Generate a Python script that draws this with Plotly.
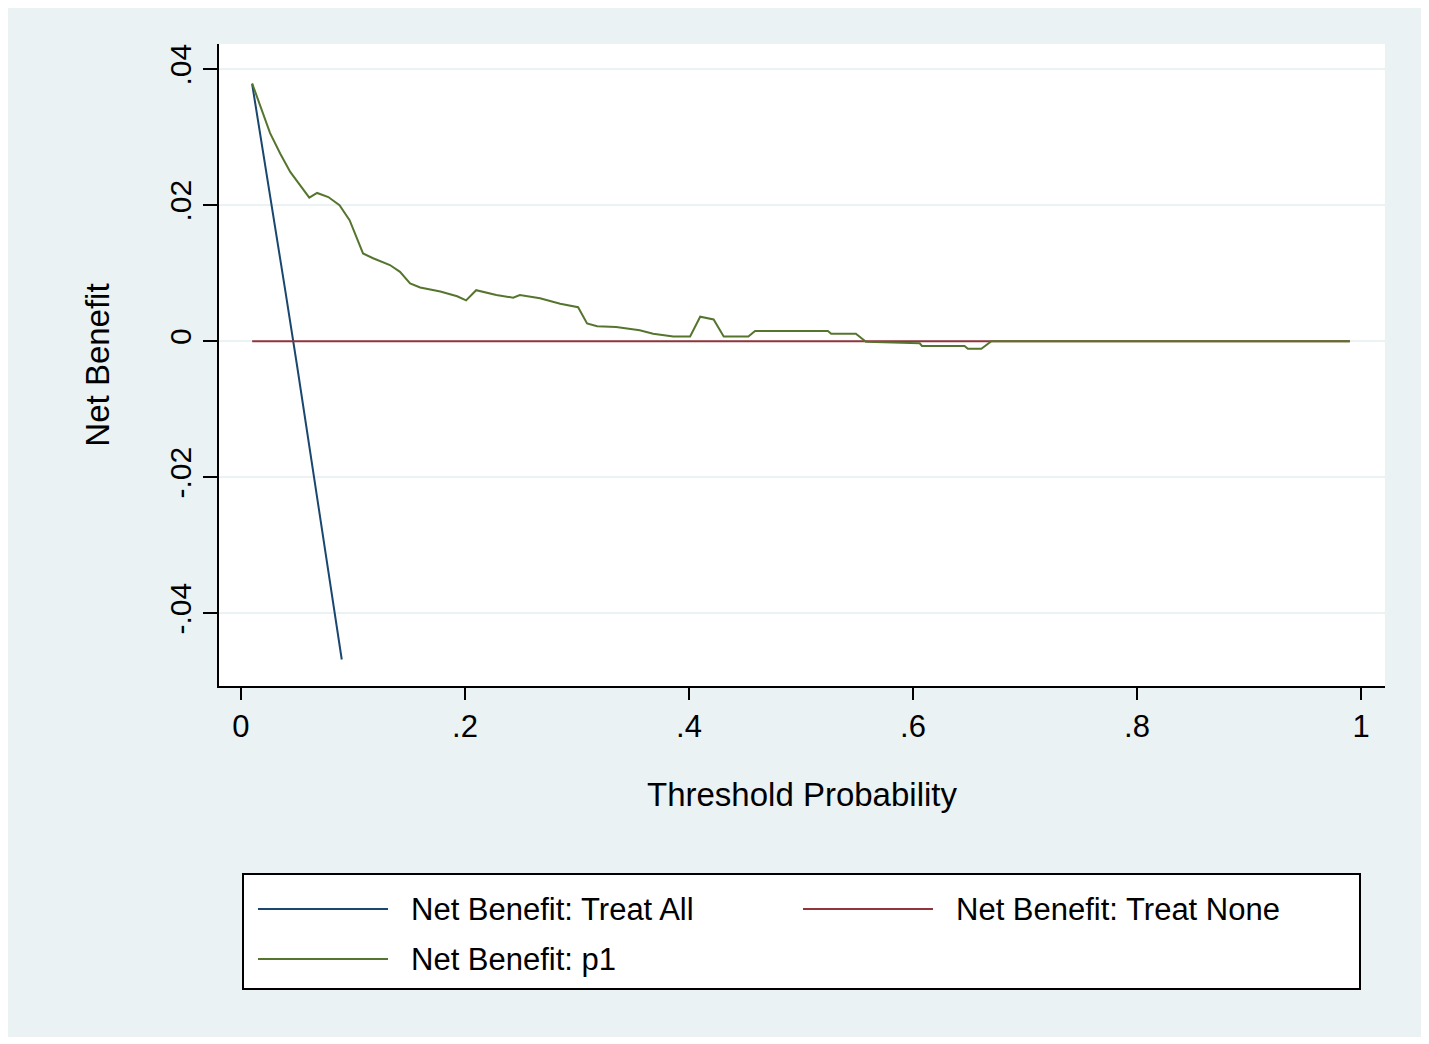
import plotly.graph_objects as go

# Data (threshold probability vs net benefit)
treat_all_x = [0.01, 0.02, 0.03, 0.04, 0.05, 0.06, 0.07, 0.08, 0.09]
treat_all_y = [0.0378, 0.0277, 0.0174, 0.0070, -0.0035, -0.0142, -0.0250, -0.0358, -0.0468]

treat_none_x = [0.01, 0.99]
treat_none_y = [0.0, 0.0]

p1_x = [0.010, 0.026, 0.035, 0.044, 0.061, 0.068, 0.078, 0.088, 0.097, 0.109,
        0.118, 0.133, 0.142, 0.151, 0.160, 0.178, 0.193, 0.201, 0.210, 0.228,
        0.243, 0.249, 0.267, 0.285, 0.301, 0.309, 0.318, 0.335, 0.356, 0.368,
        0.386, 0.401, 0.410, 0.422, 0.431, 0.453, 0.459, 0.524, 0.527, 0.549,
        0.558, 0.606, 0.608, 0.646, 0.649, 0.661, 0.670, 0.990]
p1_y = [0.0379, 0.0306, 0.0276, 0.0249, 0.0211, 0.0218, 0.0212, 0.0200, 0.0178, 0.0129,
        0.0122, 0.0112, 0.0102, 0.0085, 0.0079, 0.0073, 0.0066, 0.0060, 0.0075, 0.0068,
        0.0064, 0.0068, 0.0063, 0.0055, 0.0050, 0.0026, 0.0022, 0.0021, 0.0016, 0.0011,
        0.0007, 0.0007, 0.0036, 0.0032, 0.0007, 0.0007, 0.0015, 0.0015, 0.0011, 0.0011,
        -0.0001, -0.0003, -0.0007, -0.0007, -0.0011, -0.0011, 0.0000, 0.0000]

x_ticks = [0, 0.2, 0.4, 0.6, 0.8, 1]
x_tick_labels = ["0", ".2", ".4", ".6", ".8", "1"]
y_ticks = [-0.04, -0.02, 0, 0.02, 0.04]
y_tick_labels = ["-.04", "-.02", "0", ".02", ".04"]

names = ["Net Benefit: Treat All", "Net Benefit: Treat None", "Net Benefit: p1"]
colors = ["#1A476F", "#90353B", "#55752F"]

# Stata s2color look
bg = "#EAF2F3"
font_family = "Liberation Sans, Arial, sans-serif"

# page body adds an 8px margin, so the figure is laid out 8px smaller
OFF = 8
W, H = 1429 - OFF, 1044 - OFF
L, R, T, B = 219 - OFF, 1385 - OFF, 44 - OFF, 686 - OFF  # plot area in pixels


def px_x(p):
    return (p - OFF - L) / (R - L)


def px_y(p):
    return (B - (p - OFF)) / (B - T)


fig = go.Figure()
fig.add_trace(go.Scatter(x=treat_all_x, y=treat_all_y, mode="lines", name=names[0],
                         line=dict(color=colors[0], width=2), showlegend=False))
fig.add_trace(go.Scatter(x=treat_none_x, y=treat_none_y, mode="lines", name=names[1],
                         line=dict(color=colors[1], width=2), showlegend=False))
fig.add_trace(go.Scatter(x=p1_x, y=p1_y, mode="lines", name=names[2],
                         line=dict(color=colors[2], width=2), showlegend=False))

shapes = [
    # graph region inside the white frame
    dict(type="rect", xref="paper", yref="paper", layer="below",
         x0=px_x(OFF), x1=px_x(1422), y0=px_y(1037), y1=px_y(OFF),
         fillcolor=bg, line=dict(width=0)),
    dict(type="rect", xref="paper", yref="paper", layer="below",
         x0=0, x1=1, y0=0, y1=1, fillcolor="white", line=dict(width=0)),
    # legend box
    dict(type="rect", xref="paper", yref="paper",
         x0=px_x(243), x1=px_x(1360), y0=px_y(989), y1=px_y(874),
         fillcolor="white", line=dict(color="black", width=2)),
]
annotations = []

# legend entries: (line start px, row y px)
legend_pos = [(258, 909), (803, 909), (258, 959)]
for (lx, ly), name, col in zip(legend_pos, names, colors):
    shapes.append(dict(type="line", xref="paper", yref="paper",
                       x0=px_x(lx), x1=px_x(lx + 130), y0=px_y(ly), y1=px_y(ly),
                       line=dict(color=col, width=2)))
    annotations.append(dict(xref="paper", yref="paper", x=px_x(lx + 151), y=px_y(ly),
                            text=name, showarrow=False, xanchor="left", yanchor="middle",
                            font=dict(size=31, color="black", family=font_family)))

fig.update_layout(
    width=W, height=H,
    margin=dict(l=L, r=W - R, t=T, b=H - B, pad=0),
    paper_bgcolor="white",
    plot_bgcolor="white",
    font=dict(family=font_family, size=30, color="black"),
    showlegend=False,
    shapes=shapes,
    annotations=annotations,
    xaxis=dict(
        range=[-0.0196, 1.0214],
        tickvals=x_ticks, ticktext=x_tick_labels,
        ticks="outside", ticklen=12, tickwidth=2, tickcolor="black",
        showline=True, linecolor="black", linewidth=2,
        showgrid=False, zeroline=False,
        tickfont=dict(size=31),
        title=dict(text="Threshold Probability", font=dict(size=33), standoff=40),
    ),
    yaxis=dict(
        range=[-0.0507, 0.0437],
        tickvals=y_ticks, ticktext=y_tick_labels, tickangle=-90,
        ticks="outside", ticklen=14, tickwidth=2, tickcolor="black",
        showline=True, linecolor="black", linewidth=2,
        showgrid=True, gridcolor=bg, gridwidth=2, zeroline=False,
        tickfont=dict(size=30),
        title=dict(text="Net Benefit", font=dict(size=33), standoff=44),
    ),
)

fig.write_html("out.html")
